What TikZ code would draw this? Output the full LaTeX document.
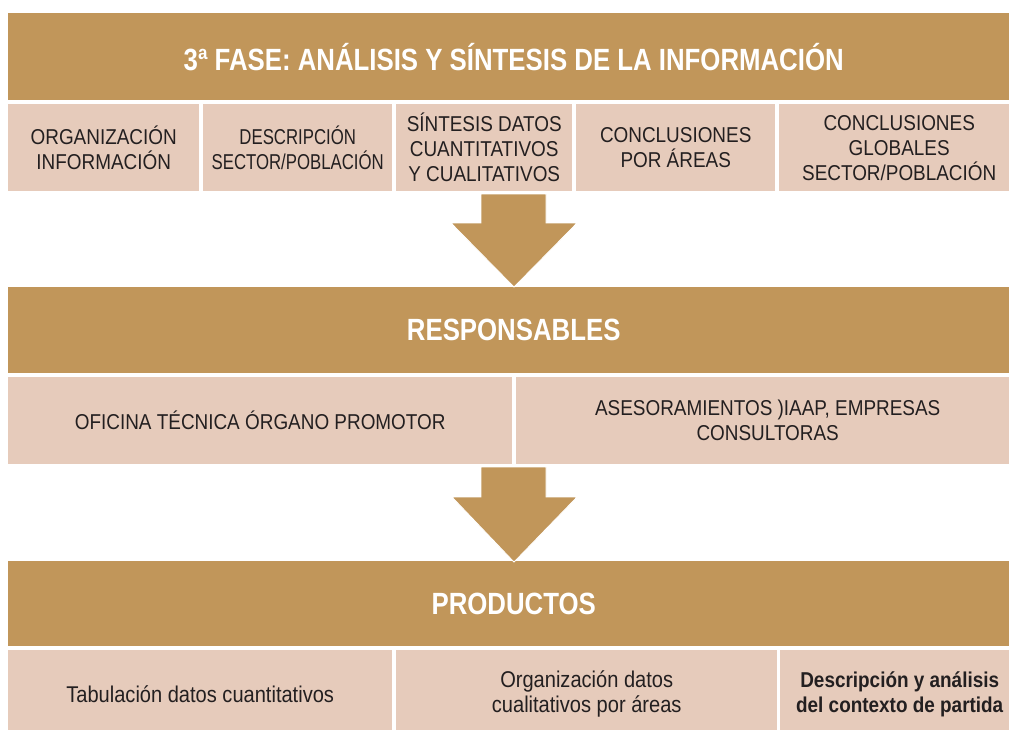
\documentclass[tikz,border=0pt]{standalone}
\usepackage{fontspec}
\setmainfont{Liberation Sans}[FakeStretch=0.88]
\newfontfamily\headfont{Liberation Sans}[FakeStretch=0.84]
\newfontfamily\narrowfont{Liberation Sans}[FakeStretch=0.78]
\definecolor{bandgold}{HTML}{C1965A}
\definecolor{cellrose}{HTML}{E6CBBB}
\definecolor{textgray}{HTML}{231F20}
\tikzset{
  band/.style={fill=bandgold, anchor=north west, inner sep=0pt, text=white,
    font=\headfont\bfseries\fontsize{30.7}{34}\selectfont},
  cell/.style={fill=cellrose, anchor=north west, inner sep=0pt, align=center,
    text=textgray, font=\fontsize{21.5}{25}\selectfont},
  narrowcell/.style={cell, font=\narrowfont\fontsize{21.5}{25}\selectfont},
  prodcell/.style={cell, font=\fontsize{22.8}{25}\selectfont},
  blockarrow/.style={fill=bandgold, draw=white, line width=0.8pt}
}
% \cellbox[style]{name}{left}{right}{top}{height}{text}
\newcommand{\cellbox}[7][cell]{%
  \node[#1, minimum width=#4pt-#3pt, minimum height=#6pt] (#2) at (#3,#5) {#7};}

\begin{document}
\begin{tikzpicture}[x=1pt,y=-1pt]
  \useasboundingbox (0,0) rectangle (1009,729);
  % Title bands (run a bit past the right page edge)
  \node[band, minimum width=1011pt, minimum height=87pt] (fase) at (8,13)
    {3ª FASE: ANÁLISIS Y SÍNTESIS DE LA INFORMACIÓN};
  \node[band, minimum width=1011pt, minimum height=86pt] (resp) at (8,287) {RESPONSABLES};
  \node[band, minimum width=1011pt, minimum height=85pt] (prod) at (8,561) {PRODUCTOS};
  % Row 1: tasks of the phase
  \cellbox{org}{8}{199}{104}{87}{ORGANIZACIÓN\\INFORMACIÓN}
  \cellbox[narrowcell]{desc}{203}{392}{104}{87}{DESCRIPCIÓN\\SECTOR/POBLACIÓN}
  \cellbox{sint}{396}{572}{104}{87}{SÍNTESIS DATOS\\CUANTITATIVOS\\Y CUALITATIVOS}
  \cellbox{conc}{576}{775}{104}{87}{CONCLUSIONES\\POR ÁREAS}
  \cellbox{glob}{779}{1019}{104}{87}{CONCLUSIONES\\GLOBALES\\SECTOR/POBLACIÓN}
  % Row 2: responsibles
  \cellbox{ofic}{8}{512}{377}{87}{OFICINA TÉCNICA ÓRGANO PROMOTOR}
  \cellbox{ases}{516}{1019}{377}{87}{ASESORAMIENTOS )IAAP, EMPRESAS\\CONSULTORAS}
  % Row 3: products (cut off by the page edge)
  \cellbox[prodcell]{tab}{8}{392}{650}{88}{Tabulación datos cuantitativos}
  \cellbox[prodcell]{orgd}{396}{777}{650}{88}{Organización datos\\cualitativos por áreas}
  \cellbox{ctx}{780}{1019}{650}{88}{\bfseries Descripción y análisis\\\bfseries del contexto de partida}
  % Block arrows between the stages
  \draw[blockarrow] (481,194) -- (546,194) -- (546,223) -- (577,223) -- (514,287)
    -- (451,223) -- (481,223) -- cycle;
  \draw[blockarrow] (481,467) -- (546,467) -- (546,497) -- (577,497) -- (514,562)
    -- (452,497) -- (481,497) -- cycle;
\end{tikzpicture}
\end{document}
